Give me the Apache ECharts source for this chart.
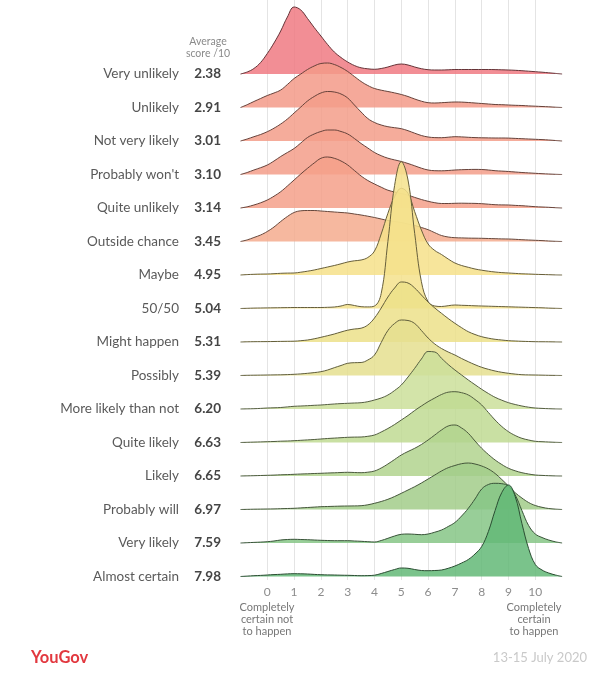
<!DOCTYPE html>
<html><head><meta charset="utf-8">
<script src="https://cdn.jsdelivr.net/npm/echarts@6/dist/echarts.min.js"></script>
<style>html,body{margin:0;padding:0;background:#fff}#c{width:611px;height:680px}</style>
</head><body><div id="c"></div>
<script>
// ---------- DATA ----------
const categories = ['Very unlikely','Unlikely','Not very likely',"Probably won't",'Quite unlikely','Outside chance','Maybe','50/50','Might happen','Possibly','More likely than not','Quite likely','Likely','Probably will','Very likely','Almost certain'];
const scores = ['2.38','2.91','3.01','3.10','3.14','3.45','4.95','5.04','5.31','5.39','6.20','6.63','6.65','6.97','7.59','7.98'];
const xTicks = [0,1,2,3,4,5,6,7,8,9,10];
// score positions where density was read (x axis, score out of 10)
const xValues = [-1,-0.75,-0.5,-0.25,0,0.25,0.5,0.75,1,1.25,1.5,1.75,2,2.25,2.5,2.75,3,3.25,3.5,3.75,4,4.25,4.5,4.75,5,5.25,5.5,5.75,6,6.25,6.5,6.75,7,7.25,7.5,7.75,8,8.25,8.5,8.75,9,9.25,9.5,9.75,10,10.25,10.5,10.75,11];
// relative density of answers for each phrase
const veryUnlikely   = [0,2,5.5,11.5, 20.5,31,43,57, 67,64,55.5,46.5, 38,29.5,22,16.5, 12,8.5,6.2,5.2, 4.7,5.5,7,9, 10,9,7,5.3, 4.3,4,4,4.2, 4.5,4.5,4.5,4.5, 4.5,4.5,4.4,4.2, 4,3.7,3.3,2.8, 2.3,1.8,1.2,0.6, 0];
const unlikely       = [0,2.8,6,9, 12,14.5,17.5,23, 29,33.5,38,41.5, 44,44.5,43,40, 36,31,26,22, 19,17.3,16,14.6, 13,11,8.5,6.3, 4.8,4.5,4.8,5.2, 5.5,5.4,5,4.5, 4,3.5,3,2.8, 2.5,2.2,2,1.6, 1.3,1,0.7,0.3, 0];
const notVeryLikely  = [0,2,4.3,6.5, 9.3,12.8,17,22, 28,34,40,44.5, 48,49.5,49,47, 43,36,29,22.5, 18.5,16,14.3,13.3, 12.3,10.3,7.8,5.5, 4,3.4,3.3,3.8, 4.3,4.1,3.7,3.4, 3.2,3.1,3,3, 2.9,2.6,2.3,2, 1.7,1.4,1,0.5, 0];
const probablyWont   = [0,2,4.5,6.8, 9.5,13.5,18,22, 26,31.5,37,40.5, 43,44.5,44.5,43, 40.5,36,31,26.5, 22,18.8,16.3,14.6, 13,11,8.7,6.3, 4.5,3.8,3.7,4, 4.5,4.8,5,5.1, 5,4.5,3.8,3.4, 3,2.5,2,1.6, 1.2,0.8,0.5,0.2, 0];
const quiteUnlikely  = [0,1.2,3,5.2, 8,11.8,16.3,22, 28,34,39.7,45, 49.7,51,49.7,47, 43,37.5,32,27.5, 24,20.8,17.8,16, 14.5,12.8,10.6,8.5, 6.7,5.3,4.5,4.5, 4.7,4.8,4.7,4.6, 4.3,3.8,3.3,3.1, 3,2.6,2.3,1.8, 1.3,1,0.7,0.3, 0];
const outsideChance  = [0,1.6,4,6.5, 10,14.5,20,25, 29,30.7,31,31, 30.5,30,29.5,29, 28.5,27.5,26.5,25.3, 24,22.5,21,20, 19,17.5,16,14, 11.8,8.8,6,4.5, 3.8,3.6,3.4,3.3, 3.2,3,2.8,2.6, 2.5,2.2,1.8,1.5, 1.2,0.9,0.5,0.2, 0];
const maybe          = [0,0.4,0.7,0.9, 1,1.3,1.7,1.9, 2,2.8,3.8,5, 6.5,8,9.5,11.2, 13,14.2,15,17.5, 24,41,61.7,78.3, 86.7,81.7,63.3,45, 31,24.5,20.5,16, 12,9.5,7.7,6, 4.8,3.8,3,2.4, 2,1.6,1.2,1, 0.7,0.5,0.3,0.1, 0];
const fiftyFifty     = [0,0.2,0.4,0.5, 0.6,0.7,0.8,0.9, 1,1,1,1, 1,1.2,1.5,2.5, 4,3,1.8,1.6, 2.5,15,67,123, 146.8,128.5,75,26.8, 6.8,2.5,2,2.8, 3.5,3.2,3,2.7, 2.5,2.3,2.1,1.9, 1.7,1.5,1.3,1.1, 0.9,0.7,0.4,0.2, 0];
const mightHappen    = [0,0.2,0.3,0.35, 0.4,0.5,0.6,0.7, 0.8,1.3,2,3.2, 4.7,6.3,8,10, 11.8,13,13.8,17, 24,34,45,54, 60,59,54,47, 40,34,28.7,23.5, 18.7,14.3,10.3,7.5, 5.3,3.8,2.7,2, 1.3,1,0.7,0.5, 0.3,0.25,0.2,0.1, 0];
const possibly       = [0,0.2,0.3,0.4, 0.5,0.6,0.7,0.9, 1.2,1.6,2.2,2.9, 3.8,5.5,7.8,10, 12.2,12.8,13,15.5, 20.5,33,45,52, 55.5,55,52,45, 37.5,31.5,27,23.5, 20.5,17,13.8,10.8, 8.2,6.2,4.5,3.2, 2.2,1.4,0.8,0.6, 0.5,0.35,0.2,0.1, 0];
const moreLikelyThanNot = [0,0.15,0.3,0.6, 1,1.2,1.5,2.1, 2.7,3,3.3,3.7, 4,4.5,5,5.4, 5.7,6,6.3,7.3, 9,11,14,18.5, 24,32,40.7,50, 57.5,57,50.7,44.5, 39,34,29,24.3, 19.7,15.5,11.7,8.8, 6.3,4.5,3,1.8, 1,0.6,0.3,0.1, 0];
const quiteLikely    = [0,0.2,0.4,0.6, 0.8,1,1.3,1.5, 1.8,2.2,2.6,3, 3.5,4,4.4,4.8, 5.2,5.4,5.5,6.2, 7.5,10.5,14,18, 22.5,27,32,36.5, 40.8,44.5,48,50.3, 50.8,49.8,47.5,43, 37.5,30,22.5,16, 10.8,7,4.2,2.5, 1.2,0.8,0.5,0.2, 0];
const likely         = [0,0.15,0.3,0.5, 0.7,0.9,1.2,1.4, 1.7,2,2.2,2.5, 2.7,3,3.2,3.5, 3.7,3.5,3.3,3.8, 5,8,12,16.5, 21,24.5,27.7,31.5, 36,41,46,50, 51,48,42.7,35, 27.7,21.5,16,11.5, 7.7,5.2,3.3,2, 1,0.6,0.3,0.1, 0];
const probablyWill   = [0,0.15,0.3,0.4, 0.5,0.6,0.8,1, 1.2,1.6,2,2.4, 2.8,3,3.2,3.4, 3.5,3.6,3.8,4.7, 6.2,8,10.2,13, 16.2,19.5,22.8,26.5, 30.5,34.5,38.5,41.8, 44,45.8,46.5,45.5, 43.5,40.5,36,30, 23.5,16.8,11.5,7, 4,2.2,1,0.4, 0];
const veryLikely     = [0,0.3,0.6,0.9, 1.3,2,3,3.5, 3.7,3.5,3.3,3, 2.7,2.5,2.3,2.3, 2.3,2,1.7,1.3, 1,2.5,4.7,7, 8.7,9,8.7,8.3, 9,10.8,13,16.5, 20.5,27,34.7,44, 54,58.5,59.7,59.3, 57,48,32.5,17.5, 9,5.5,3,1.2, 0];
const almostCertain  = [0,0.4,0.8,1.1, 1.5,1.9,2.2,2.6, 2.8,2.7,2.5,2.1, 1.8,1.6,1.5,1.3, 1.2,1,0.8,0.9, 1.3,3,5,7, 8.5,8.2,7,6, 5.8,6,6.5,8.2, 10.5,13.5,17,22.5, 30,45,66,84, 91.5,80,53,28, 12,6.5,3.5,1.5, 0];
const densities = [veryUnlikely,unlikely,notVeryLikely,probablyWont,quiteUnlikely,outsideChance,maybe,fiftyFifty,mightHappen,possibly,moreLikelyThanNot,quiteLikely,likely,probablyWill,veryLikely,almostCertain];

// ---------- STYLE / LAYOUT ----------
const fillColors = ['#f07a82','#f39a88','#f39e8a','#f39e8a','#f4a08a','#f5ab8e','#f6e08a','#f5e28c','#ece08a','#e5df8f','#cbdf9a','#bfda93','#b1d48e','#a2cd89','#86c586','#63b877'];
const FONT = 'Lato, "Open Sans", sans-serif';
const X0 = 267.3, UNIT = 26.8;          // pixel of score 0, pixels per score point
const FIRST_BASE = 74, ROW_GAP = 33.5;  // ridge baselines
function darken(hex, f) {
  const n = parseInt(hex.slice(1), 16);
  const r = Math.round(((n >> 16) & 255) * f), g = Math.round(((n >> 8) & 255) * f), b = Math.round((n & 255) * f);
  return 'rgb(' + r + ',' + g + ',' + b + ')';
}

const grids = [], xAxes = [], yAxes = [], series = [];
densities.forEach((d, i) => {
  const base = FIRST_BASE + ROW_GAP * i;
  grids.push({ left: X0 - UNIT, width: UNIT * 12, top: 0, height: base });
  xAxes.push({ type: 'value', gridIndex: i, min: -1, max: 11, show: false });
  yAxes.push({ type: 'value', gridIndex: i, min: 0, max: base, show: false });
  series.push({
    type: 'line', xAxisIndex: i, yAxisIndex: i, name: categories[i],
    data: xValues.map((x, j) => [x, d[j]]),
    smooth: 0.4, symbol: 'none', clip: false, silent: true,
    lineStyle: { color: darken(fillColors[i], 0.42), width: 1 },
    areaStyle: { color: fillColors[i], opacity: 0.85 },
    z: 2 + i * 0.01
  });
});
// grid with the 0..10 axis and vertical gridlines
const gi = densities.length;
grids.push({ left: X0, width: UNIT * 10, top: 0, height: 580 });
xAxes.push({ type: 'value', gridIndex: gi, min: 0, max: 10, interval: 1,
  axisLine: { show: false }, axisTick: { show: false },
  splitLine: { show: true, lineStyle: { color: '#e4e4e4', width: 1 } },
  axisLabel: { color: '#8c8c8c', fontSize: 12, fontFamily: FONT, margin: 6,
    formatter: v => xTicks.includes(v) ? String(v) : '' } });
yAxes.push({ type: 'value', gridIndex: gi, show: false });
// grid carrying the phrase labels and average scores
const li = gi + 1;
grids.push({ left: X0 - UNIT, width: UNIT * 12, top: FIRST_BASE, height: ROW_GAP * 15 });
xAxes.push({ type: 'value', gridIndex: li, show: false });
yAxes.push({ type: 'category', gridIndex: li, data: categories, inverse: true, boundaryGap: false,
  axisLine: { show: false }, axisTick: { show: false }, splitLine: { show: false },
  axisLabel: { interval: 0, margin: 19.5,
    formatter: (v, idx) => '{n|' + v + '}{s|' + scores[idx] + '}',
    rich: {
      n: { fontSize: 13.5, color: '#5a5a5a', fontFamily: FONT },
      s: { fontSize: 13.5, color: '#454545', fontWeight: 'bold', fontFamily: FONT, width: 42, align: 'right' }
    } } });

const chart = echarts.init(document.getElementById('c'), null, { renderer: 'canvas', devicePixelRatio: 1 });
chart.setOption({
  animation: false,
  backgroundColor: '#ffffff',
  grid: grids, xAxis: xAxes, yAxis: yAxes, series: series,
  graphic: [
    { type: 'text', style: { text: 'Average\nscore /10', x: 208, y: 36, align: 'center', verticalAlign: 'top', fontSize: 10.5, lineHeight: 12, fill: '#8a8a8a', fontFamily: FONT } },
    { type: 'text', style: { text: 'Completely\ncertain not\nto happen', x: 267, y: 601.5, align: 'center', verticalAlign: 'top', fontSize: 11, lineHeight: 12, fill: '#777', fontFamily: FONT } },
    { type: 'text', style: { text: 'Completely\ncertain\nto happen', x: 534, y: 601.5, align: 'center', verticalAlign: 'top', fontSize: 11, lineHeight: 12, fill: '#777', fontFamily: FONT } },
    { type: 'text', style: { text: 'YouGov', x: 31, y: 658, align: 'left', verticalAlign: 'middle', fontSize: 16.5, fontWeight: 'bold', fill: '#e2383f', fontFamily: FONT } },
    { type: 'text', style: { text: '13-15 July 2020', x: 587, y: 658, align: 'right', verticalAlign: 'middle', fontSize: 13, fill: '#c9c9c9', fontFamily: FONT } }
  ]
});
</script></body></html>
